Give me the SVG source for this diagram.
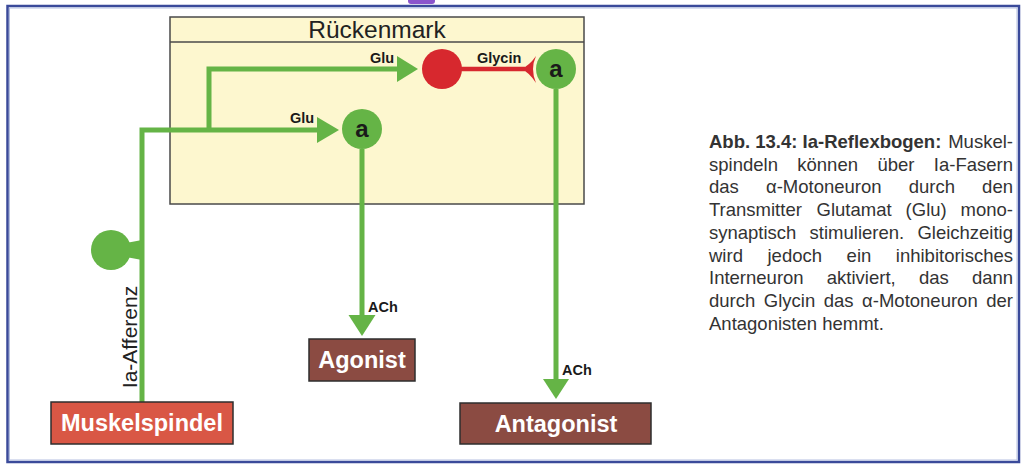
<svg xmlns="http://www.w3.org/2000/svg" width="1024" height="470" viewBox="0 0 1024 470">
<style>
.ln{stroke:#65b446;stroke-width:5;fill:none;stroke-linejoin:miter}
.gf{fill:#65b446}
.lab{font-family:"Liberation Sans",Arial,sans-serif;font-weight:bold;font-size:14.5px;fill:#1a1a1a}
.box{stroke:#2e2e2e;stroke-width:1.5}
.bt{font-family:"Liberation Sans",Arial,sans-serif;font-weight:bold;font-size:23.5px;fill:#ffffff;text-anchor:middle}
.al{font-family:"Liberation Sans",Arial,sans-serif;font-weight:bold;font-size:24px;fill:#1a1a1a;text-anchor:middle}
.cap{font-family:"Liberation Sans",Arial,sans-serif;font-size:18.5px;fill:#333333}
</style>
<rect x="408" y="-4" width="27" height="8" rx="3" fill="#8b55cc"/>
<rect x="7.5" y="6" width="1011.5" height="456" fill="#ffffff" stroke="#3a4a9a" stroke-width="2.5"/>
<rect x="9.5" y="8" width="1007.5" height="452" fill="none" stroke="#b4bfe0" stroke-width="1"/>

<g id="rueckenmark">
<rect x="170" y="17" width="414" height="187" fill="#fdf7cf" stroke="#4a4a4a" stroke-width="1.5"/>
<line x1="170" y1="42" x2="584" y2="42" stroke="#4a4a4a" stroke-width="1.5"/>
<text x="377" y="38" text-anchor="middle" font-family="'Liberation Sans',Arial,sans-serif" font-size="24.5" fill="#222">Rückenmark</text>
</g>

<g id="connectors">
<polyline class="ln" points="142,402 142,130 317,130"/>
<polyline class="ln" points="209,130 209,69 397,69"/>
<polygon class="gf" points="317,117 339,130 317,143"/>
<polygon class="gf" points="397,56 418,69 397,82"/>
<line x1="442" y1="69" x2="525" y2="69" stroke="#d7282e" stroke-width="4.5"/>
<path d="M521,69 Q529,66 536,56 Q530,69 536,83 Q529,72 521,69 Z" fill="#d7282e"/>
<line class="ln" x1="362" y1="149" x2="362" y2="316"/>
<polygon class="gf" points="348.5,315 375.5,315 362,336"/>
<line class="ln" x1="556" y1="89" x2="556" y2="380"/>
<polygon class="gf" points="543,379 569,379 556,399"/>
<path d="M126,243 L142,240 L142,260 L126,257 Z" fill="#65b446"/>
<text class="lab" x="370" y="63">Glu</text>
<text class="lab" x="290" y="123">Glu</text>
<text class="lab" x="477" y="63">Glycin</text>
<text class="lab" x="368" y="312">ACh</text>
<text class="lab" x="562" y="375">ACh</text>
<text transform="translate(137,337) rotate(-90)" text-anchor="middle" font-family="'Liberation Sans',Arial,sans-serif" font-size="21" fill="#222">Ia-Afferenz</text>
</g>

<g id="soma">
<circle cx="111" cy="250" r="20" fill="#65b446"/>
</g>

<g id="interneuron">
<circle cx="442" cy="69" r="20" fill="#d7282e"/>
</g>

<g id="motoneuron-antagonist">
<circle cx="556" cy="69" r="20" fill="#65b446"/>
<text class="al" x="556" y="77">a</text>
</g>

<g id="motoneuron-agonist">
<circle cx="362" cy="129" r="20" fill="#65b446"/>
<text class="al" x="362" y="137">a</text>
</g>

<g id="muskelspindel">
<rect class="box" x="51" y="402" width="182" height="42" fill="#d95745"/>
<text class="bt" x="142" y="431">Muskelspindel</text>
</g>

<g id="agonist">
<rect class="box" x="309" y="339" width="106" height="42" fill="#8b4b42"/>
<text class="bt" x="362" y="368">Agonist</text>
</g>

<g id="antagonist">
<rect class="box" x="460" y="403" width="191" height="41" fill="#8b4b42"/>
<text class="bt" x="556" y="432">Antagonist</text>
</g>

<g id="caption" class="cap">
<text y="148"><tspan x="709" font-weight="bold">Abb. 13.4: Ia-Reflexbogen:</tspan><tspan x="948.2">Muskel-</tspan></text>
<text y="170.7"><tspan x="709">spindeln</tspan><tspan x="797.3">können</tspan><tspan x="877.4">über</tspan><tspan x="933.8">Ia-Fasern</tspan></text>
<text y="193.4"><tspan x="709">das</tspan><tspan x="766">α-Motoneuron</tspan><tspan x="908.8">durch</tspan><tspan x="982.1">den</tspan></text>
<text y="216.1"><tspan x="709">Transmitter</tspan><tspan x="816.5">Glutamat</tspan><tspan x="905.6">(Glu)</tspan><tspan x="960.6">mono-</tspan></text>
<text y="238.8"><tspan x="709">synaptisch</tspan><tspan x="809.6">stimulieren.</tspan><tspan x="917.4">Gleichzeitig</tspan></text>
<text y="261.5"><tspan x="709">wird</tspan><tspan x="767.5">jedoch</tspan><tspan x="846.6">ein</tspan><tspan x="895.8">inhibitorisches</tspan></text>
<text y="284.2"><tspan x="709">Interneuron</tspan><tspan x="826.8">aktiviert,</tspan><tspan x="918.9">das</tspan><tspan x="971.9">dann</tspan></text>
<text y="306.9"><tspan x="709">durch</tspan><tspan x="763.8">Glycin</tspan><tspan x="823.8">das</tspan><tspan x="862.1">α-Motoneuron</tspan><tspan x="986.3">der</tspan></text>
<text y="329.6" x="709">Antagonisten hemmt.</text>
</g>
</svg>
